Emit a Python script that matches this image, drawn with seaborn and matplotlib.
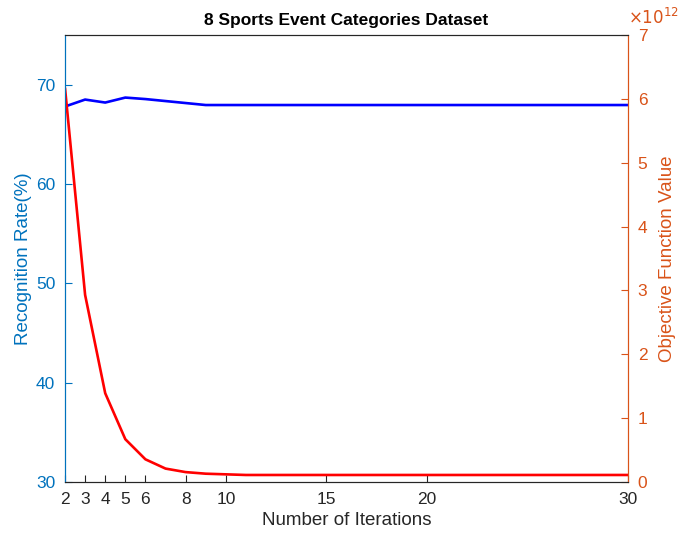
import matplotlib
matplotlib.use("Agg")
import matplotlib.pyplot as plt
import seaborn as sns
import pandas as pd

iterations = list(range(2, 31))
recognition_rate = [67.8, 68.5, 68.2, 68.7, 68.55, 68.35, 68.15, 67.95] + [67.95] * 21
objective_e12 = [6.17, 2.93, 1.39, 0.67, 0.355, 0.21, 0.155, 0.13, 0.12] + [0.11] * 20
xticks = [2, 3, 4, 5, 6, 8, 10, 15, 20, 30]

df = pd.DataFrame({"it": iterations, "rr": recognition_rate, "obj": objective_e12})

sns.set_style("white")
plt.rcParams["font.family"] = ["Liberation Sans", "DejaVu Sans"]

BLUE_AX = "#0072BD"
ORANGE_AX = "#D95319"
DARK = "#262626"

fig = plt.figure(figsize=(6.81, 5.38), dpi=100)
ax = fig.add_axes([65/681, 56/538, 563/681, 447/538])
ax2 = ax.twinx()

sns.lineplot(data=df, x="it", y="rr", ax=ax, color="#0000FF", linewidth=1.9)
sns.lineplot(data=df, x="it", y="obj", ax=ax2, color="#FF0000", linewidth=1.9)

ax.set_xlim(2, 30)
ax.set_ylim(30, 75)
ax.set_yticks([30, 40, 50, 60, 70])
ax2.set_ylim(0, 7)
ax2.set_yticks(range(0, 8))
ax.set_xticks(xticks)
ax.set_xticklabels([str(t) for t in xticks])

ax.set_xlabel("Number of Iterations", fontsize=13.5, color=DARK, labelpad=4)
ax.set_ylabel("Recognition Rate(%)", fontsize=13.5, color=BLUE_AX, labelpad=3)
ax2.set_ylabel("Objective Function Value", fontsize=13.5, color=ORANGE_AX, labelpad=8)
ax.set_title("8 Sports Event Categories Dataset", fontsize=12.5, fontweight="bold", color="black", pad=7)

for a in (ax, ax2):
    for s in a.spines.values():
        s.set_linewidth(0.8)
ax.spines["left"].set_color(BLUE_AX)
ax2.spines["left"].set_color(BLUE_AX)
ax2.spines["right"].set_color(ORANGE_AX)
ax.spines["right"].set_color(ORANGE_AX)
ax.spines["top"].set_color(DARK)
ax2.spines["top"].set_color(DARK)
ax.spines["bottom"].set_color(DARK)
ax2.spines["bottom"].set_color(DARK)

ax.tick_params(axis="x", direction="in", length=5, colors=DARK, labelsize=12.5, top=False, bottom=True, pad=7)
ax.tick_params(axis="y", direction="in", length=5, colors=BLUE_AX, labelsize=12.5, pad=7)
ax2.tick_params(axis="y", direction="in", length=5, colors=ORANGE_AX, labelsize=12.5, pad=7)

ax2.text(1.0, 1.018, r"$\times10^{12}$", transform=ax2.transAxes, color=ORANGE_AX,
         fontsize=12, ha="left", va="bottom")

fig.savefig("out.png", dpi=100)
